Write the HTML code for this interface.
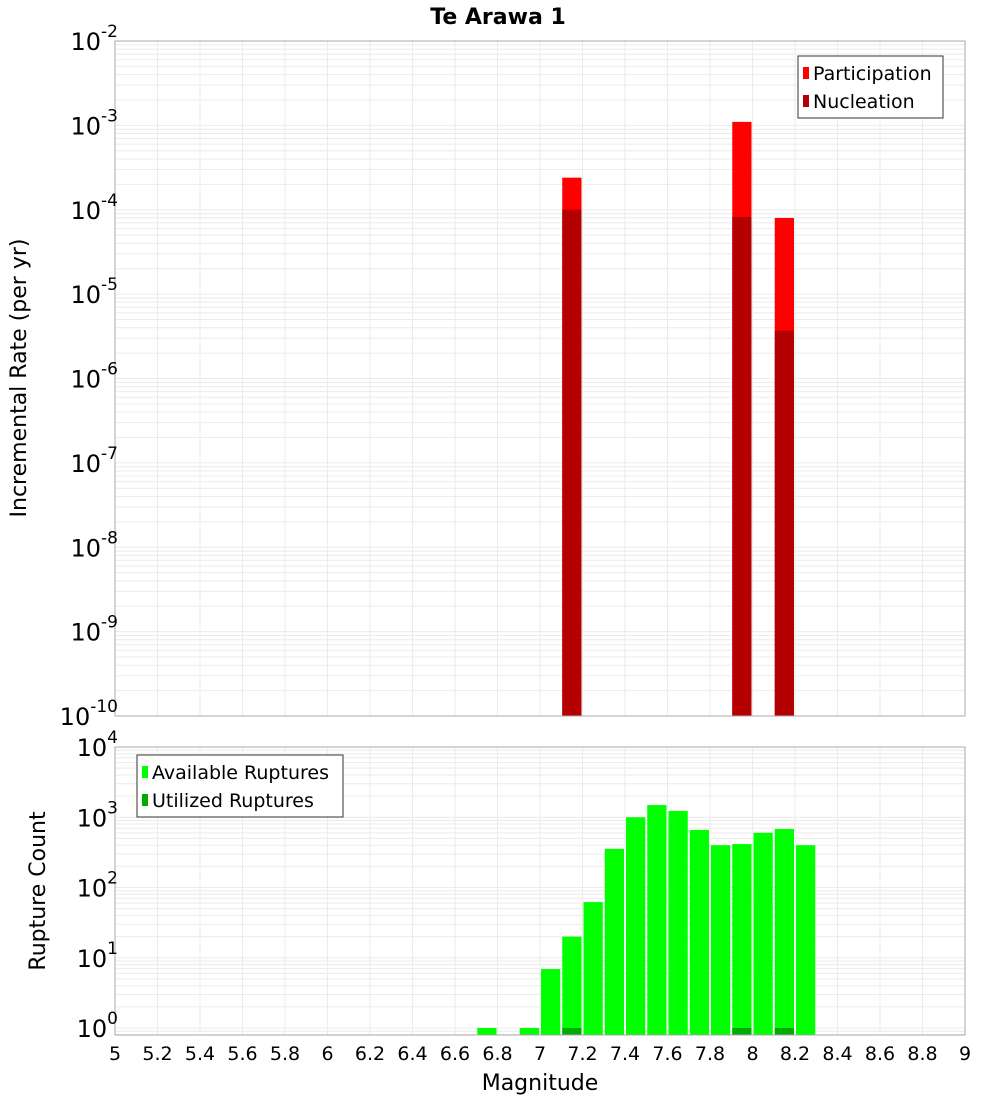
<!DOCTYPE html>
<html><head><meta charset="utf-8"><style>
body{margin:0;background:#fff;font-family:"Liberation Sans","DejaVu Sans",sans-serif}
svg text{font-family:"DejaVu Sans","Liberation Sans",sans-serif}
</style></head><body>
<svg id="chart" width="1000" height="1100" xmlns="http://www.w3.org/2000/svg">
<text x="498" y="24" font-size="22" font-weight="bold" text-anchor="middle">Te Arawa 1</text>
<g id="topg"></g><g id="botg"></g>
<text transform="translate(26,378) rotate(-90)" font-size="22" text-anchor="middle">Incremental Rate (per yr)</text>
<text transform="translate(45,891) rotate(-90)" font-size="22" text-anchor="middle">Rupture Count</text>
<text x="540" y="1090" font-size="22" text-anchor="middle">Magnitude</text>
</svg>
<script>
const magBins=[7.15,7.95,8.15];
const participation=[2.4e-4,1.1e-3,8e-5];
const nucleation=[1.0e-4,8.2e-5,3.7e-6];
const countMags=[6.75,6.95,7.05,7.15,7.25,7.35,7.45,7.55,7.65,7.75,7.85,7.95,8.05,8.15,8.25];
const available=[1,1,6.9,20,62,355,1000,1490,1230,660,400,415,600,680,400];
const utilizedMags=[7.15,7.95,8.15];
const utilized=[1,1,1];
const xTicks=[5,5.2,5.4,5.6,5.8,6,6.2,6.4,6.6,6.8,7,7.2,7.4,7.6,7.8,8,8.2,8.4,8.6,8.8,9];
const topExps=[-10,-9,-8,-7,-6,-5,-4,-3,-2];
const botExps=[0,1,2,3,4];
const NS="http://www.w3.org/2000/svg";
const L=115,R=965;
const X=m=>L+(m-5)/4*(R-L);
const TT=41,TB=716;
const YT=v=>TB-(Math.log10(v)+10)/8*(TB-TT);
const BT=747,BB=1035,B0=1028,DEC=70.25;
const YB=v=>B0-Math.log10(v)*DEC;
function el(p,t,a){const e=document.createElementNS(NS,t);for(const k in a)e.setAttribute(k,a[k]);p.appendChild(e);return e;}
const gTop=document.getElementById('topg'),gBot=document.getElementById('botg');
function grid(g,y0,y1,ylines){
  xTicks.forEach(t=>{const l=el(g,'line',{x1:X(t),x2:X(t),y1:y0,y2:y1,stroke:'#ebebeb'});
  
  });
  ylines.forEach(y=>{if(y>=y0&&y<=y1){const l=el(g,'line',{x1:L,x2:R,y1:y,y2:y,stroke:'#ebebeb'});
  
  }});
}
let tl=[];for(let e=-10;e<-2;e++)for(let k=1;k<10;k++)tl.push(YT(k*Math.pow(10,e)));tl.push(TT);
grid(gTop,TT,TB,tl);
let bl=[];for(let e=-1;e<4;e++)for(let k=1;k<10;k++)bl.push(YB(k*Math.pow(10,e)));bl.push(YB(1e4));
grid(gBot,BT,BB,bl);
const bw=(X(5.1)-X(5))-2;
magBins.forEach((m,i)=>{
  const r=el(gTop,'rect',{x:X(m)-bw/2,y:YT(participation[i]),width:bw,height:TB-YT(participation[i]),fill:'#ff0000'});
  
  
  const n=el(gTop,'rect',{x:X(m)-bw/2,y:YT(nucleation[i]),width:bw,height:TB-YT(nucleation[i]),fill:'#b40000'});
  
  
});
countMags.forEach((m,i)=>{
  const r=el(gBot,'rect',{x:X(m)-bw/2,y:YB(available[i]),width:bw,height:BB-YB(available[i]),fill:'#00ff00'});
  
  
});
utilizedMags.forEach((m,i)=>{
  const r=el(gBot,'rect',{x:X(m)-bw/2,y:YB(utilized[i]),width:bw,height:BB-YB(utilized[i]),fill:'#00aa00'});
  
  
});
[[gTop,TT,TB],[gBot,BT,BB]].forEach(([g,a,b])=>{const f=el(g,'rect',{x:L,y:a,width:R-L,height:b-a,fill:'none',stroke:'#a8a8a8'});

});
function pow(g,x,y,e,name){const t=el(g,'text',{x:x,y:y,'font-size':24,'text-anchor':'end'});
  
  
  t.appendChild(document.createTextNode('10'));
  const s=el(t,'tspan',{dy:-13,'font-size':17});
  s.textContent=String(e);}
topExps.forEach(e=>pow(gTop,118,YT(Math.pow(10,e))+9,e,'top-y-tick-label'));
botExps.forEach(e=>pow(gBot,118,YB(Math.pow(10,e))+9,e,'bottom-y-tick-label'));
xTicks.forEach(t=>{const s=el(gBot,'text',{x:X(t),y:1060,'font-size':19,'text-anchor':'middle'});
  
  
  s.textContent=String(t);});
function legend(g,x,y,w,items,name){
  const b=el(g,'rect',{x:x,y:y,width:w,height:62,fill:'#fff',stroke:'#333'});
  
  
  items.forEach((it,i)=>{
    const s=el(g,'rect',{x:x+5,y:y+11+i*28,width:6,height:12,fill:it[1]});
    
    
    const t=el(g,'text',{x:x+15,y:y+24+i*28,'font-size':19});
    
    
    t.textContent=it[0];
  });
}
legend(gTop,798,56,145,[['Participation','#ff0000'],['Nucleation','#b40000']],'top-legend');
legend(gBot,137,755,206,[['Available Ruptures','#00ff00'],['Utilized Ruptures','#00aa00']],'bottom-legend');
</script>
</body></html>
